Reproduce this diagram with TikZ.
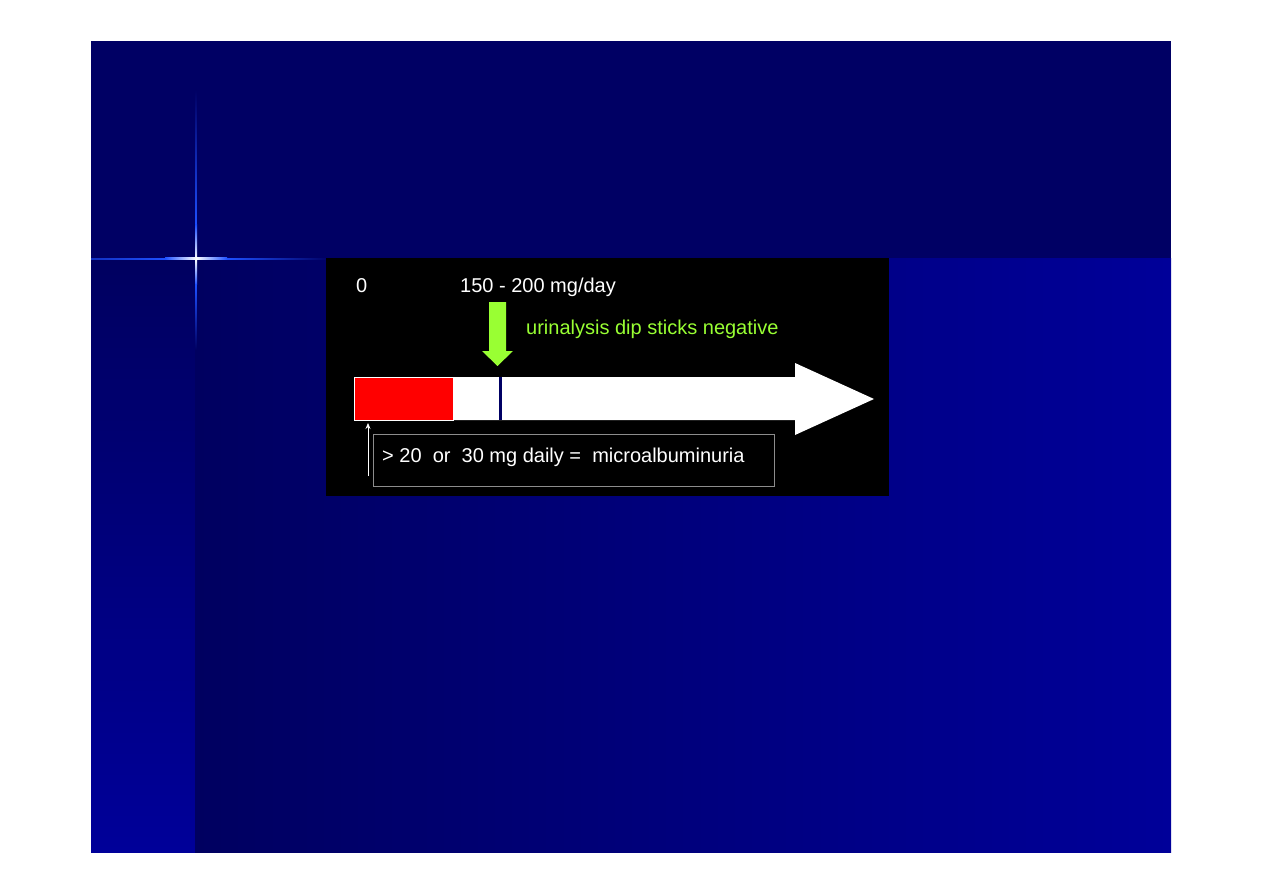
\documentclass[tikz,border=0pt]{standalone}
\usepackage{fontspec}
\setmainfont{Liberation Sans}
\usetikzlibrary{arrows.meta}
\definecolor{navytop}{RGB}{0,0,100}
\definecolor{navyleft}{RGB}{0,0,96}
\definecolor{blueright}{RGB}{0,0,153}
\definecolor{glow}{RGB}{30,80,255}
\definecolor{dipgreen}{RGB}{153,255,51}
\definecolor{boxgray}{RGB}{140,140,140}
\tikzset{
  lbl/.style={inner sep=0pt, anchor=base west, font=\fontsize{20}{24}\selectfont},
  whitelbl/.style={lbl, text=white},
  greenlbl/.style={lbl, text=dipgreen},
}
\begin{document}
\begin{tikzpicture}[x=1pt,y=-1pt]
\useasboundingbox (0,0) rectangle (1263,893);
\fill[white] (0,0) rectangle (1263,893);
% slide background
\fill[navytop] (91,41) rectangle (1171,259);
\shade[top color=navyleft, bottom color=blueright] (91,259) rectangle (195,852);
\shade[left color=navyleft, right color=blueright] (195,259) rectangle (1171,852);
% star flare: vertical
\shade[top color=navytop, bottom color=glow] (195.2,90) rectangle (196.8,225);
\shade[top color=glow, bottom color=white] (195,225) rectangle (197,259);
\shade[top color=white, bottom color=glow] (195,259) rectangle (197,285);
\shade[top color=glow, bottom color=navyleft] (195.2,285) rectangle (196.8,350);
% star flare: horizontal
\shade[left color=glow!60!navytop, right color=glow] (91,258.2) rectangle (165,259.8);
\shade[left color=glow, right color=white] (165,258) rectangle (196,260);
\shade[left color=white, right color=glow] (196,258) rectangle (227,260);
\shade[left color=glow, right color=navytop] (227,258.2) rectangle (330,259.8);
% black panel
\node[fill=black, minimum width=563pt, minimum height=238pt, inner sep=0pt, anchor=north west] (panel) at (326,258) {};
% labels
\node[whitelbl] (zero) at (356,292) {0};
\node[whitelbl] (range) at (460,292) {150 - 200 mg/day};
\node[greenlbl] (dip) at (526,334) {urinalysis dip sticks negative};
% green arrow
\fill[dipgreen] (489,302) -- (506,302) -- (506,351) -- (513,351) -- (497.5,366) -- (482,351) -- (489,351) -- cycle;
% white big arrow
\fill[white] (354,377) -- (795,377) -- (795,363) -- (874,399) -- (795,435) -- (795,420) -- (354,420) -- cycle;
% red section
\node[fill=red, draw=white, line width=0.6pt, minimum width=99pt, minimum height=43pt, inner sep=0pt, anchor=north west] (red) at (354,377) {};
% navy marker
\fill[navytop] (498.5,377) rectangle (502,420);
% gray box with text
\node[draw=boxgray, line width=0.8pt, minimum width=401pt, minimum height=52pt, inner sep=0pt, anchor=north west] (micro) at (373,434) {};
\node[whitelbl] (microtxt) at (382,462) {>\ 20\ \ or\ \ 30 mg daily =\ \ microalbuminuria};
% small arrow
\coordinate (sa) at (368,476);
\coordinate (sb) at (368,423);
\draw[white, line width=0.8pt, -{Stealth[length=6pt,width=5pt]}] (sa) -- (sb);
\end{tikzpicture}
\end{document}
